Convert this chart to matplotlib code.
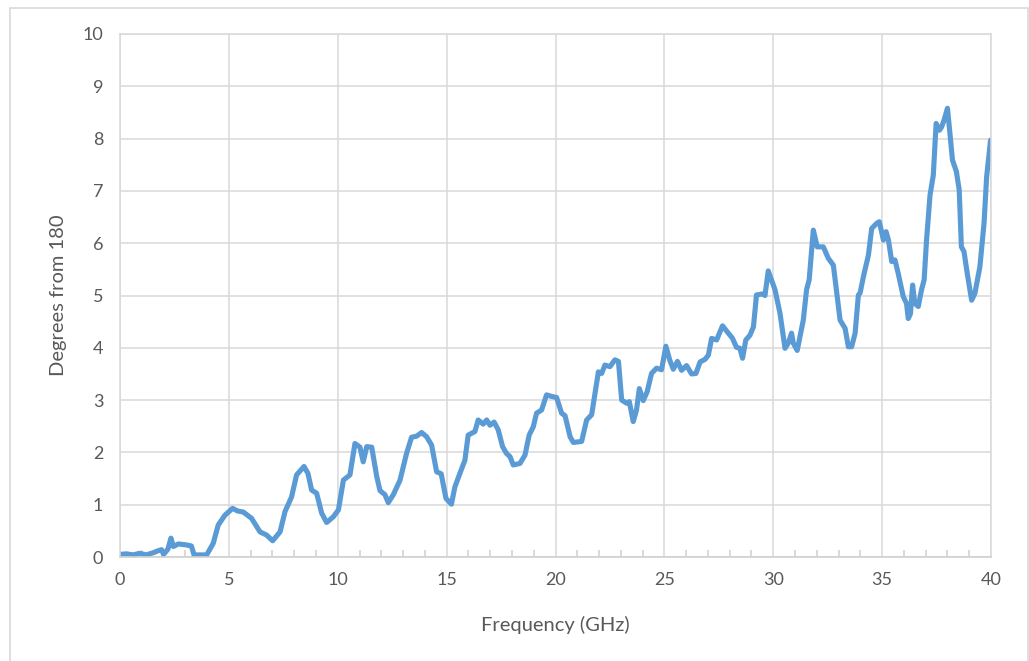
import matplotlib.pyplot as plt
from matplotlib.patches import Rectangle
from matplotlib.ticker import MultipleLocator

freq_ghz = [
    0.0, 0.3, 0.6, 0.9, 1.2, 1.52, 1.75, 1.91, 2.0, 2.2, 2.34, 2.45, 2.68, 3.06, 3.28, 3.4,
    3.98, 4.28, 4.51, 4.82, 5.17, 5.4, 5.66, 6.04, 6.43, 6.73, 7.01, 7.35, 7.58, 7.88,
    8.11, 8.45, 8.63, 8.80, 9.03, 9.26, 9.49, 9.80, 10.03, 10.26, 10.56, 10.79, 11.02,
    11.17, 11.33, 11.56, 11.79, 11.94, 12.17, 12.32, 12.55, 12.86, 13.16, 13.39, 13.62,
    13.85, 14.08, 14.31, 14.54, 14.75, 14.97, 15.22, 15.38, 15.61, 15.84, 15.99, 16.30,
    16.45, 16.68, 16.84, 16.99, 17.18, 17.37, 17.57, 17.75, 17.91, 18.06, 18.37, 18.60,
    18.79, 18.98, 19.13, 19.36, 19.59, 19.82, 20.05, 20.28, 20.44, 20.67, 20.82, 21.20,
    21.43, 21.66, 21.97, 22.12, 22.27, 22.50, 22.73, 22.89, 23.04, 23.27, 23.39, 23.57,
    23.72, 23.85, 24.03, 24.21, 24.41, 24.64, 24.87, 25.07, 25.25, 25.41, 25.60, 25.79,
    26.02, 26.25, 26.45, 26.64, 26.87, 27.02, 27.17, 27.40, 27.67, 27.88, 28.13, 28.31,
    28.47, 28.59, 28.74, 28.93, 29.09, 29.23, 29.51, 29.62, 29.77, 30.08, 30.31, 30.54,
    30.69, 30.84, 30.92, 31.10, 31.38, 31.53, 31.65, 31.84, 32.02, 32.30, 32.53, 32.76,
    33.07, 33.30, 33.45, 33.60, 33.76, 33.91, 33.99, 34.14, 34.37, 34.52, 34.75, 34.87,
    35.06, 35.18, 35.29, 35.44, 35.59, 35.74, 35.97, 36.12, 36.20, 36.30, 36.40, 36.50,
    36.66, 36.81, 36.93, 37.04, 37.20, 37.35, 37.48, 37.63, 37.73, 37.85, 38.00, 38.10,
    38.23, 38.41, 38.54, 38.64, 38.76, 38.91, 39.11, 39.26, 39.49, 39.68, 39.80, 39.98,
]
deg_from_180 = [
    0.05, 0.06, 0.04, 0.07, 0.04, 0.08, 0.12, 0.14, 0.05, 0.15, 0.36, 0.20, 0.25, 0.23, 0.21, 0.04,
    0.04, 0.26, 0.61, 0.80, 0.93, 0.88, 0.86, 0.74, 0.48, 0.42, 0.31, 0.48, 0.87, 1.15,
    1.57, 1.73, 1.60, 1.28, 1.22, 0.84, 0.66, 0.77, 0.90, 1.47, 1.57, 2.17, 2.10,
    1.82, 2.11, 2.10, 1.54, 1.27, 1.19, 1.04, 1.19, 1.47, 1.98, 2.29, 2.31,
    2.38, 2.30, 2.14, 1.63, 1.59, 1.12, 1.01, 1.34, 1.60, 1.85, 2.33, 2.40,
    2.62, 2.54, 2.62, 2.52, 2.58, 2.43, 2.11, 1.98, 1.92, 1.76, 1.79, 1.95,
    2.33, 2.49, 2.75, 2.81, 3.10, 3.07, 3.05, 2.75, 2.70, 2.30, 2.19, 2.21,
    2.62, 2.72, 3.54, 3.51, 3.67, 3.64, 3.77, 3.74, 3.00, 2.94, 2.97, 2.59,
    2.81, 3.22, 2.99, 3.16, 3.51, 3.61, 3.58, 4.03, 3.76, 3.59, 3.74, 3.57,
    3.66, 3.50, 3.51, 3.73, 3.78, 3.86, 4.18, 4.15, 4.42, 4.31, 4.18, 4.01,
    3.99, 3.80, 4.15, 4.24, 4.40, 5.01, 5.03, 5.00, 5.47, 5.11, 4.66, 3.99,
    4.09, 4.28, 4.09, 3.95, 4.53, 5.11, 5.30, 6.25, 5.93, 5.93, 5.71, 5.58,
    4.53, 4.37, 4.02, 4.02, 4.28, 5.01, 5.05, 5.36, 5.77, 6.28, 6.38, 6.41,
    6.06, 6.22, 6.06, 5.65, 5.68, 5.42, 4.98, 4.85, 4.56, 4.65, 5.20, 4.85,
    4.79, 5.11, 5.30, 6.06, 6.92, 7.30, 8.29, 8.16, 8.22, 8.36, 8.58, 8.16,
    7.59, 7.37, 7.02, 5.93, 5.84, 5.42, 4.91, 5.04, 5.55, 6.38, 7.27, 7.97,
]

TEXT = "#595959"
GRID = "#D9D9D9"

plt.rcParams["font.family"] = ["Lato", "DejaVu Sans"]

fig = plt.figure(figsize=(10.29, 6.61), dpi=100)
W, H = 1029, 661
ax = fig.add_axes([120 / W, 1 - 557 / H, (991 - 120) / W, (557 - 34) / H])

# outer chart border
fig.patches.append(Rectangle((10 / W, -0.01), 1018 / W, 1.01 - 8 / H,
                             transform=fig.transFigure, fill=False,
                             edgecolor="#D9D9D9", linewidth=1.2))

ax.plot(freq_ghz, deg_from_180, color="#5B9BD5", linewidth=3.7,
        solid_capstyle="round", solid_joinstyle="round")

ax.set_xlim(0, 40)
ax.set_ylim(0, 10)
ax.xaxis.set_major_locator(MultipleLocator(5))
ax.xaxis.set_minor_locator(MultipleLocator(1))
ax.yaxis.set_major_locator(MultipleLocator(1))
ax.grid(True, which="major", color=GRID, linewidth=1.1)
ax.set_axisbelow(True)

for side in ["top", "right", "left"]:
    ax.spines[side].set_color(GRID)
    ax.spines[side].set_linewidth(1.1)
ax.spines["bottom"].set_color("#D0D0D0")
ax.spines["bottom"].set_linewidth(1.2)

ax.tick_params(axis="y", length=0, pad=12, labelcolor=TEXT, labelsize=13)
ax.tick_params(axis="x", which="major", length=0, pad=11, labelcolor=TEXT, labelsize=13)
ax.tick_params(axis="x", which="minor", direction="in", length=5, color="#D0D0D0", width=1.1)

ax.set_xlabel("Frequency (GHz)", color=TEXT, fontsize=14.5, labelpad=20)
ax.set_ylabel("Degrees from 180", color=TEXT, fontsize=14.5, labelpad=11)

fig.savefig("out.png", dpi=100)
